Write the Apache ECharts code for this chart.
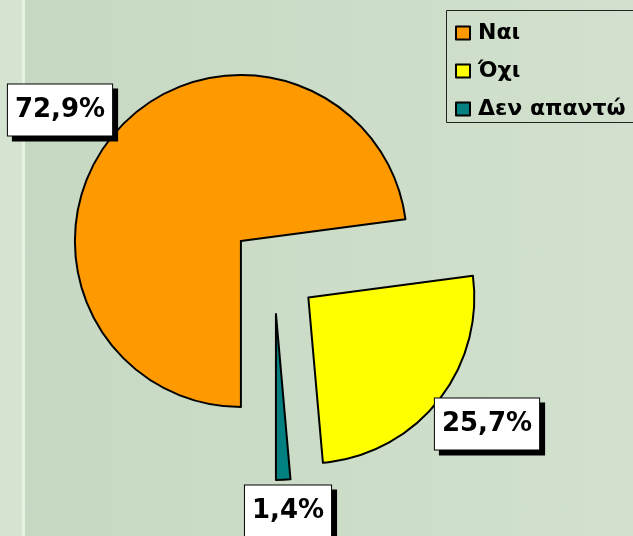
<!DOCTYPE html>
<html>
<head>
<meta charset="utf-8">
<script src="https://cdn.jsdelivr.net/npm/echarts@6/dist/echarts.min.js"></script>
<style>
  html, body { margin: 0; padding: 0; }
  body {
    width: 633px;
    height: 536px;
    overflow: hidden;
    background: linear-gradient(to right, #c6d7c2, #d1e1cd);
    position: relative;
  }
  /* light strip on the left edge */
  .strip {
    position: absolute; left: 0; top: 0; width: 22px; height: 536px;
    background: #d5e3d1; border-right: 3px solid #e6f2e4;
  }
  #chart { position: absolute; left: 0; top: 0; width: 633px; height: 536px; }
</style>
</head>
<body>
<div class="strip"></div>
<div id="chart"></div>
<script>
// data
const categories = ["Ναι", "Όχι", "Δεν απαντώ"];
const values = [72.9, 25.7, 1.4];
const colors = ["#ff9900", "#ffff00", "#008080"];

// where each percentage box sits (centre)
const labelPos = [[60, 110], [487, 424], [288, 511]];

const fmt = (v) => v.toFixed(1).replace(".", ",") + "%";

// percentage boxes (white box, black border, hard black shadow)
const labelBoxes = values.map((v, i) => ({
  type: "text",
  x: labelPos[i][0],
  y: labelPos[i][1],
  z: 10,
  style: {
    text: fmt(v),
    align: "center",
    verticalAlign: "middle",
    fontFamily: "DejaVu Sans",
    fontWeight: "bold",
    fontSize: 26,
    fill: "#000",
    backgroundColor: "#fff",
    borderColor: "#000",
    borderWidth: 1,
    padding: [14, 7, 11, 7],
    shadowColor: "#000",
    shadowOffsetX: 5,
    shadowOffsetY: 5,
    shadowBlur: 0,
  },
}));

const chart = echarts.init(document.getElementById("chart"));
const option = {
  backgroundColor: "transparent",
  animation: false,
  color: colors,
  legend: {
    orient: "vertical",
    left: 446,
    top: 10,
    padding: [12, 10, 3, 9],
    itemGap: 16,
    itemWidth: 14,
    itemHeight: 13,
    icon: "rect",
    selectedMode: false,
    data: categories,
    textStyle: {
      fontFamily: "DejaVu Sans",
      fontWeight: "bold",
      fontSize: 22,
      color: "#000",
      padding: [0, 0, 0, 3],
    },
  },
  graphic: [
    // legend frame, runs off the right edge like the original
    {
      type: "rect",
      shape: { x: 446.5, y: 10.5, width: 220, height: 112 },
      style: { fill: "none", stroke: "#222", lineWidth: 1 },
    },
    ...labelBoxes,
  ],
  series: [
    {
      type: "pie",
      center: [274, 270],
      radius: 166,
      startAngle: -90,
      clockwise: true,
      selectedMode: "multiple",
      selectedOffset: 44,
      emphasis: { disabled: true },
      itemStyle: { borderColor: "#000", borderWidth: 2 },
      label: { show: false },
      labelLine: { show: false },
      data: categories.map((name, i) => ({
        name,
        value: values[i],
        selected: true,
      })),
    },
  ],
};
chart.setOption(option);
window.addEventListener("resize", () => {
  chart.resize();
});
</script>
</body>
</html>
